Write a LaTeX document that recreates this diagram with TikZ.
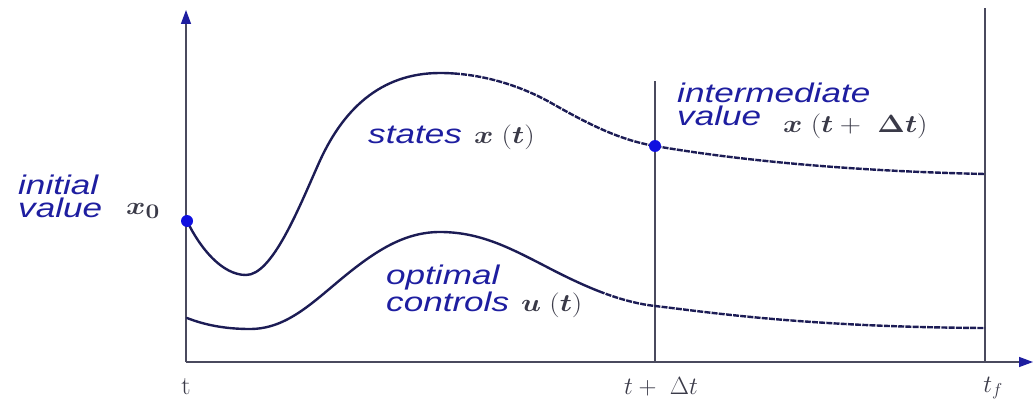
\documentclass[tikz,border=0pt]{standalone}
\usepackage{fontspec}
\usepackage{amsmath,bm}
\usetikzlibrary{arrows.meta}
\newfontfamily\labfont[FakeStretch=1.3]{Liberation Sans}
\definecolor{labblue}{HTML}{1E1EA0}
\definecolor{curvecol}{HTML}{1C1C55}
\definecolor{axiscol}{HTML}{4A4A5E}
\definecolor{mathcol}{HTML}{3A3A48}
\definecolor{dotcol}{HTML}{1010E0}
\tikzset{
  lab/.style={font=\labfont\itshape\fontsize{27}{23}\selectfont, text=labblue, inner sep=0pt, anchor=base west, align=left},
  mlab/.style={font=\fontsize{28}{28}\selectfont, text=mathcol, inner sep=0pt, anchor=base west, xscale=1.18, transform shape},
  tlab/.style={font=\fontsize{26}{26}\selectfont, text=mathcol, inner sep=0pt, anchor=base},
  axis/.style={draw=axiscol, line width=1.4pt},
  curve/.style={draw=curvecol, line width=2.4pt, line cap=round},
  dcurve/.style={draw=curvecol, line width=2.4pt, dash pattern=on 6pt off 1.2pt},
  dot/.style={circle, fill=dotcol, inner sep=0pt, minimum size=12pt},
  tip/.style={-{Triangle[length=14pt,width=10pt,fill=labblue,color=labblue]}}
}
\newcommand{\statespath}{(187,221) .. controls (200,248) and (222,275) .. (246,275)
  .. controls (272,275) and (298,210) .. (318,165)
  .. controls (342,110) and (380,73) .. (440,73)
  .. controls (480,73) and (520,85) .. (553,104)
  .. controls (590,125) and (620,140) .. (655,146)
  .. controls (690,152) and (800,170) .. (985,174)}
\newcommand{\controlspath}{(187,318) .. controls (205,325) and (225,329) .. (250,329)
  .. controls (285,329) and (310,305) .. (340,280)
  .. controls (376,250) and (405,232) .. (440,232)
  .. controls (480,232) and (510,248) .. (545,266)
  .. controls (585,287) and (620,302) .. (655,306)
  .. controls (700,311) and (800,327) .. (985,328)}
\begin{document}
\begin{tikzpicture}[x=1pt,y=-1pt]
\useasboundingbox (0,0) rectangle (1033,409);
% axes
\coordinate (O) at (186,362);
\coordinate (ytop) at (186,10);
\coordinate (xend) at (1033,362);
\coordinate (mbot) at (655,362);
\coordinate (mtop) at (655,81);
\coordinate (fbot) at (985,362);
\coordinate (ftop) at (985,8);
\draw[axis, tip] (O) -- (ytop);
\draw[axis, tip] (O) -- (xend);
\draw[axis] (mbot) -- (mtop);
\draw[axis] (fbot) -- (ftop);
% state curve
\begin{scope}
\clip (150,0) rectangle (455,409);
\draw[curve] \statespath;
\end{scope}
\begin{scope}
\clip (455,0) rectangle (986,409);
\draw[dcurve] \statespath;
\end{scope}
% control curve
\begin{scope}
\clip (150,0) rectangle (600,409);
\draw[curve] \controlspath;
\end{scope}
\begin{scope}
\clip (600,0) rectangle (986,409);
\draw[dcurve] \controlspath;
\end{scope}
% dots
\node[dot] (x0dot) at (187,221) {};
\node[dot] (xmdot) at (655,146) {};
% labels
\node[lab] (initval) at (18,217) {initial\\value};
\node[mlab] (x0) at (126,214) {$\bm{x}_{\bm{0}}$};
\node[lab] (states) at (368,143) {states};
\node[mlab] (xt) at (474,143) {$\bm{x}\;(\bm{t})$};
\node[lab] (interval) at (677,126) {intermediate\\value};
\node[mlab] (xtdt) at (783,133) {$\bm{x}\;(\bm{t}+\ \bm{\Delta}\bm{t})$};
\node[lab] (optcon) at (386,311) {optimal\\controls};
\node[mlab] (ut) at (521,311) {$\bm{u}\;(\bm{t})$};
\node[tlab] (tl) at (186,394) {t};
\node[tlab] (tdt) at (661,394) {$t+\ \Delta t$};
\node[tlab] (tf) at (993,392) {$t_f$};
\end{tikzpicture}
\end{document}
